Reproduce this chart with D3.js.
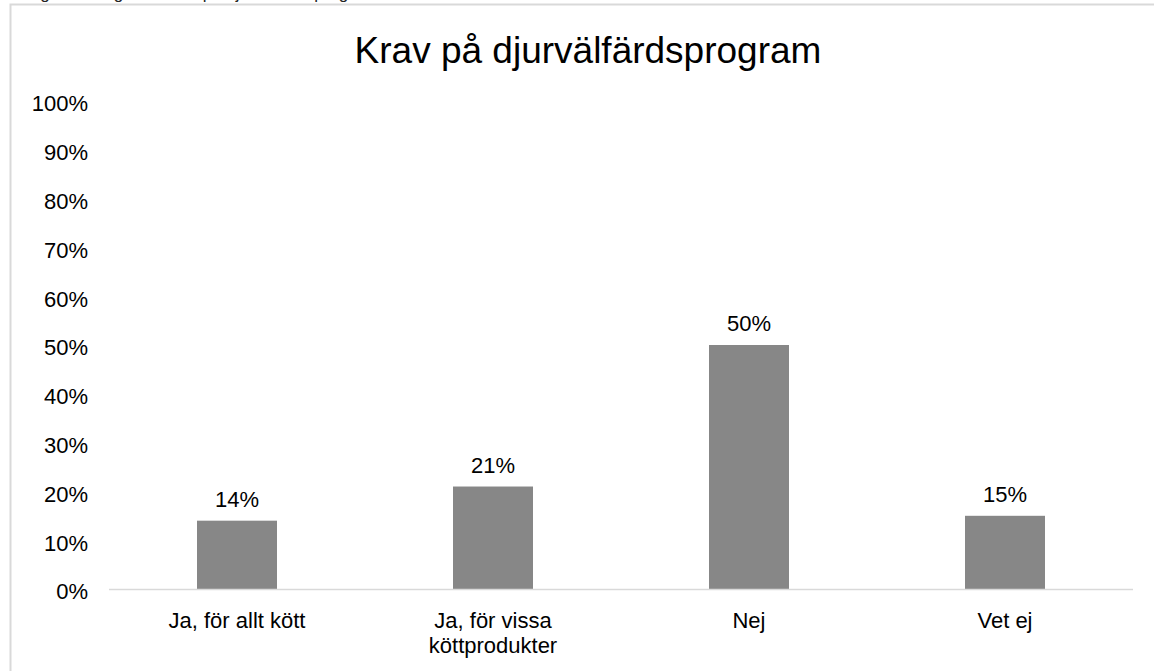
<!DOCTYPE html>
<html>
<head>
<meta charset="utf-8">
<script src="https://cdn.jsdelivr.net/npm/d3@7"></script>
<style>
  body { margin: 0; background: #fff; overflow: hidden; }
  svg text { font-family: "Liberation Sans", Arial, sans-serif; fill: #000; }
</style>
</head>
<body>
<div id="chart"></div>
<script>
// Chart data
const categories = [["Ja, för allt kött"], ["Ja, för vissa", "köttprodukter"], ["Nej"], ["Vet ej"]];
const values = [14, 21, 50, 15];
const yTicks = [0, 10, 20, 30, 40, 50, 60, 70, 80, 90, 100];
const title = "Krav på djurvälfärdsprogram";

const width = 1154, height = 671;
const margin = { top: 101, right: 21, bottom: 82, left: 109 };

const svg = d3.select('#chart')
    .append('svg')
    .attr('width', width)
    .attr('height', height);

// Caption above the chart, cut off by the top edge
svg.append('text')
    .attr('x', 26)
    .attr('y', -1)
    .style('font-size', '17px')
    .style('fill', '#222')
    .text('Figur 9. Fråga om krav på djurvälfärdsprogram');

// Chart frame (only left and top edges visible)
svg.append('rect')
    .attr('x', 10.5)
    .attr('y', 4.5)
    .attr('width', 1200)
    .attr('height', 700)
    .attr('fill', 'none')
    .attr('stroke', '#d9d9d9')
    .attr('stroke-width', 2);

const x = d3.scaleBand()
    .domain(d3.range(categories.length))
    .range([margin.left, width - margin.right])
    .paddingInner(0.6875)
    .paddingOuter(0.34375);

const y = d3.scaleLinear()
    .domain([0, 100])
    .range([height - margin.bottom, margin.top]);

// Title
svg.append('text')
    .attr('x', 588)
    .attr('y', 63)
    .attr('text-anchor', 'middle')
    .style('font-size', '37px')
    .text(title);

// Y axis labels
const yAxis = svg.append('g')
    .attr('transform', `translate(${margin.left}, 0)`)
    .call(d3.axisLeft(y).tickValues(yTicks).tickFormat(d => d + '%').tickSize(0).tickPadding(21));
yAxis.select('.domain').remove();
yAxis.selectAll('text')
    .style('font-size', '22px')
    .attr('dy', '0.45em')
    .style('font-family', '"Liberation Sans", Arial, sans-serif');

// Bars
svg.append('g')
    .selectAll('rect')
    .data(values)
    .enter()
    .append('rect')
    .attr('x', (d, i) => x(i))
    .attr('y', d => y(d))
    .attr('width', x.bandwidth())
    .attr('height', d => y(0) - y(d))
    .attr('fill', '#878787');

// Data labels
svg.append('g')
    .selectAll('text')
    .data(values)
    .enter()
    .append('text')
    .attr('x', (d, i) => x(i) + x.bandwidth() / 2)
    .attr('y', d => y(d) - 14)
    .attr('text-anchor', 'middle')
    .style('font-size', '22px')
    .text(d => d + '%');

// X axis line
svg.append('line')
    .attr('x1', margin.left)
    .attr('x2', width - margin.right)
    .attr('y1', y(0) + 0.5)
    .attr('y2', y(0) + 0.5)
    .attr('stroke', '#d9d9d9')
    .attr('stroke-width', 1.5);

// Category labels
const xl = svg.append('g')
    .selectAll('text')
    .data(categories)
    .enter()
    .append('text')
    .attr('x', (d, i) => x(i) + x.bandwidth() / 2)
    .attr('y', 628)
    .attr('text-anchor', 'middle')
    .style('font-size', '22px');
xl.selectAll('tspan')
    .data(d => d)
    .enter()
    .append('tspan')
    .attr('x', function() { return d3.select(this.parentNode).attr('x'); })
    .attr('dy', (d, i) => i === 0 ? 0 : 25)
    .text(d => d);
</script>
</body>
</html>
